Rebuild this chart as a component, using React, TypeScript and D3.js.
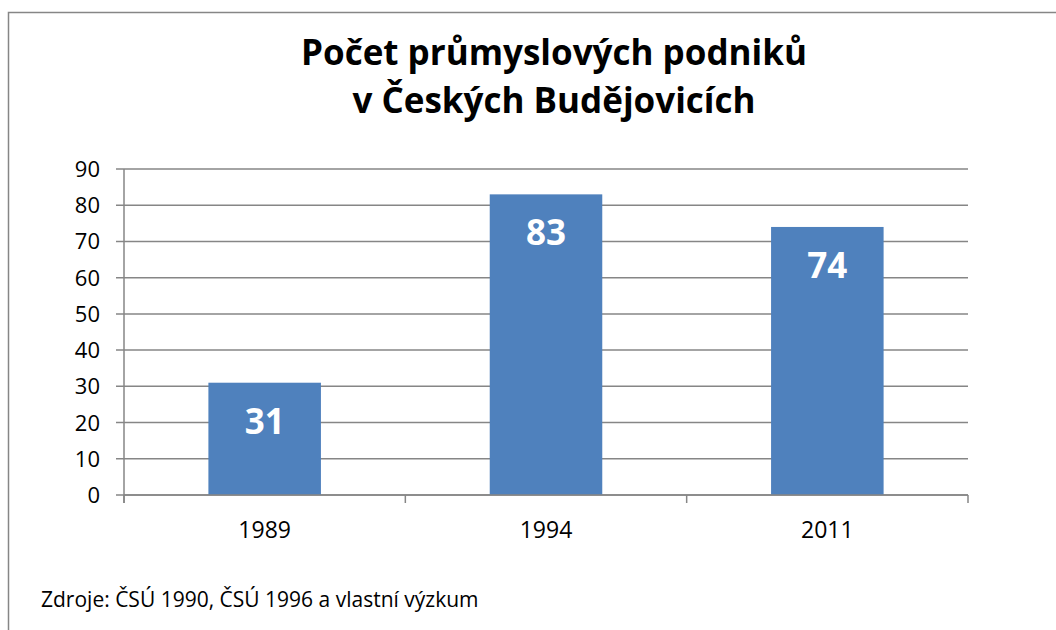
import React from "react";
import { scaleBand, scaleLinear } from "d3";

const years = ["1989", "1994", "2011"];
const counts = [31, 83, 74];
const yTicks = [0, 10, 20, 30, 40, 50, 60, 70, 80, 90];
const titleLines = ["Počet průmyslových podniků", "v Českých Budějovicích"];
const source = "Zdroje: ČSÚ 1990, ČSÚ 1996 a vlastní výzkum";

const W = 1056;
const H = 630;
const left = 124;
const right = 968;
const top = 169;
const bottom = 495;
const font = "'Open Sans', sans-serif";
const gray = "#868686";

const App = () => {
  const x = scaleBand().domain(years).range([left, right]).padding(0);
  const y = scaleLinear().domain([0, 90]).range([bottom, top]);
  const barW = x.bandwidth() * 0.4;

  return (
    <svg
      width={W}
      height={H}
      style={{ position: "absolute", left: 0, top: 0, background: "white" }}
    >
      <rect x={8.5} y={12.5} width={1200} height={800} fill="white" stroke={gray} strokeWidth={1.5} />

      {titleLines.map((t, i) => (
        <text
          key={t}
          x={554}
          y={65 + i * 48}
          textAnchor="middle"
          fontFamily={font}
          fontWeight={700}
          fontSize={35}
          fill="black"
        >
          {t}
        </text>
      ))}

      {/* gridlines and y ticks */}
      {yTicks.map((t) => (
        <g key={t}>
          <line x1={left - 8} x2={right} y1={y(t)} y2={y(t)} stroke={gray} strokeWidth={1.5} />
          <text
            x={100}
            y={y(t) + 8}
            textAnchor="end"
            fontFamily={font}
            fontSize={22}
            fill="black"
          >
            {t}
          </text>
        </g>
      ))}
      <line x1={left} x2={left} y1={top} y2={bottom + 8} stroke={gray} strokeWidth={1.5} />

      {/* x category boundary ticks */}
      {[...years.map((d) => x(d) as number), right].map((v, i) => (
        <line key={i} x1={v} x2={v} y1={bottom} y2={bottom + 8} stroke={gray} strokeWidth={1.5} />
      ))}

      {/* bars */}
      {years.map((d, i) => {
        const cx = (x(d) as number) + x.bandwidth() / 2;
        return (
          <g key={d}>
            <rect
              x={cx - barW / 2}
              y={y(counts[i])}
              width={barW}
              height={bottom - y(counts[i])}
              fill="#4F81BD"
            />
            <text
              x={cx}
              y={y(counts[i]) + 51}
              textAnchor="middle"
              fontFamily={font}
              fontWeight={700}
              fontSize={35}
              fill="white"
            >
              {counts[i]}
            </text>
            <text
              x={cx}
              y={538}
              textAnchor="middle"
              fontFamily={font}
              fontSize={23}
              fill="black"
            >
              {d}
            </text>
          </g>
        );
      })}

      <line x1={left} x2={right} y1={bottom} y2={bottom} stroke={gray} strokeWidth={1.5} />

      <text x={41} y={607} fontFamily={font} fontSize={21} fill="black">
        {source}
      </text>
    </svg>
  );
};

export default App;
